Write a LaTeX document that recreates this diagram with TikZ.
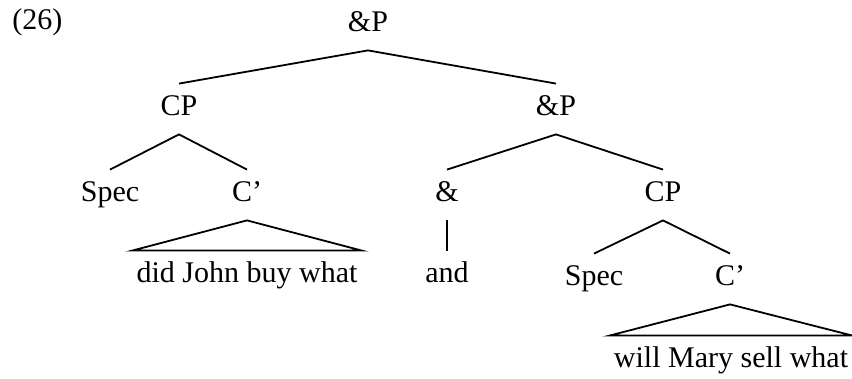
\documentclass[tikz,border=0pt]{standalone}
\usepackage{fontspec}
\setmainfont{Liberation Serif}
\begin{document}
\begin{tikzpicture}[x=0.5pt,y=-0.5pt,
  lbl/.style={anchor=base,inner xsep=2pt,inner ysep=6pt,text height=10pt,text depth=3pt,font=\fontsize{15}{18}\selectfont},
  edge/.style={line width=0.9pt,line join=miter}]
\useasboundingbox (0,0) rectangle (852,379);
\node[anchor=base west,inner sep=0pt,font=\fontsize{15}{18}\selectfont] (num) at (12,30) {(26)};
\node[lbl] (top) at (368,32) {\&P};
\node[lbl] (cpa) at (179,116) {CP};
\node[lbl] (apb) at (556,116) {\&P};
\node[lbl] (speca) at (110,202) {Spec};
\node[lbl] (ca) at (247,202) {C’};
\node[lbl] (amp) at (447,202) {\&};
\node[lbl] (cpb) at (663,202) {CP};
\node[lbl] (ta) at (247,283) {did John buy what};
\node[lbl] (andw) at (447,283) {and};
\node[lbl] (specb) at (594,286) {Spec};
\node[lbl] (cb) at (730,286) {C’};
\node[lbl] (tb) at (731,368) {will Mary sell what};
\draw[edge] (cpa.north) -- (top.south) -- (apb.north);
\draw[edge] (speca.north) -- (cpa.south) -- (ca.north);
\draw[edge] (amp.north) -- (apb.south) -- (cpb.north);
\draw[edge] (amp.south) -- (andw.north);
\draw[edge] (specb.north) -- (cpb.south) -- (cb.north);
\draw[edge] (ca.south) -- (ta.north west) -- (ta.north east) -- cycle;
\draw[edge] (cb.south) -- (tb.north west) -- (tb.north east) -- cycle;
\end{tikzpicture}
\end{document}
